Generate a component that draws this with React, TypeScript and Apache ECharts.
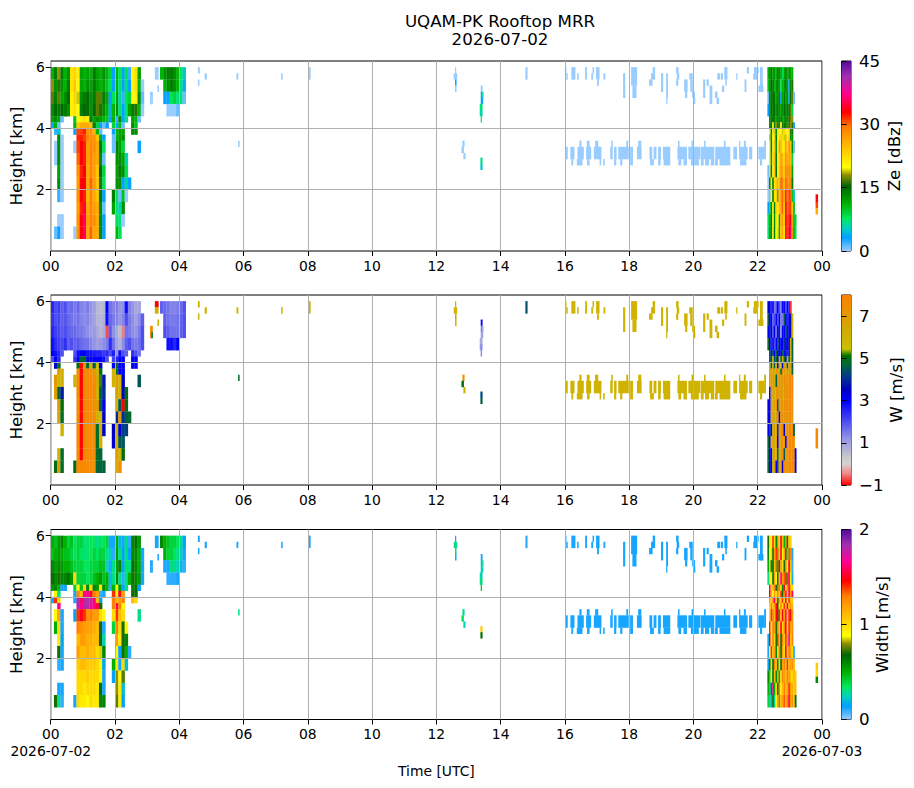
import React, { useEffect, useRef } from "react";
import * as echarts from "echarts";

const _ = null;
const TITLE = "UQAM-PK Rooftop MRR\n2026-07-02";
const BANDS = [6, 5.6, 5.2, 4.8, 4.4, 4.2, 4, 3.8, 3.6, 3.2, 2.8, 2.4, 2, 1.6, 1.2, 0.8, 0.4];
const HOUR_TICKS = [0, 2, 4, 6, 8, 10, 12, 14, 16, 18, 20, 22, 24];
const HEIGHT_TICKS = [2, 4, 6];

const ZE_EARLY = [
  [11,14,18,14,11,13,22,23,21,12,11,12,11,14,12,11,13,11,9,3,11,8,3,8,2,20,22,12],
  [18,13,16,13,11,14,22,24,20,12,11,13,12,14,12,11,12,10,8,3,11,7,3,7,3,21,22,11,0],
  [17,14,17,12,13,15,21,23,19,13,14,15,13,14,17,17,14,12,3,8,12,6,2,8,9,20,21,13,1],
  [13,15,14,15,14,13,21,22,20,14,15,15,13,15,17,16,13,11,4,11,13,7,3,7,12,14,16,11,0],
  [12,13,12,1,_,_,_,10,20,21,22,21,14,12,13,12,11,10,3,11,2,13,3,7,_,12,11,1],
  [3,11,1,_,_,_,_,11,24,26,26,26,25,14,9,3,1,3,_,9,3,10,1,_,_,13,10],
  [_,2,5,_,_,_,_,3,31,31,32,28,28,25,11,1,_,_,_,3,11,12,12,_,_,13,13],
  [_,_,13,0,_,_,_,_,32,32,31,29,28,28,24,11,3,_,_,1,11,12,13],
  [_,0,13,0,_,_,_,0,31,33,32,27,29,28,26,14,8,_,_,1,14,12,9,_,_,_,_,3],
  [_,0,13,0,_,_,_,_,30,33,32,27,29,27,26,13,1,_,_,_,13,13,12,6],
  [_,_,12,0,_,_,_,_,28,32,33,26,29,27,24,15,9,_,_,_,12,14,13,8],
  [_,_,13,0,_,_,_,_,27,33,33,26,30,27,24,16,8,_,_,_,13,13,3,6,3],
  [_,_,2,0,_,_,_,_,28,33,32,25,29,26,24,14,3,_,_,14,8,1,10,0],
  [_,_,_,_,_,_,_,_,27,32,35,26,29,27,26,13,1,_,_,12,7,6,13],
  [_,_,0,0,_,_,_,_,28,33,36,27,29,28,26,13,3,_,_,_,8,7,0],
  [_,1,3,0,_,_,_,0,28,33,36,26,30,26,26,13,3,_,_,_,11,8],
];
const W_EARLY = [
  [2.5,2,2.2,1.8,2,1.6,1.7,1.5,1.7,1.4,1.3,1.5,1.2,1,.6,.5,.6,3,1.6,1.4,1.5,1.2,1.3,2.8,1.4,1.2,.9,.9],
  [2.3,2,2.1,1.8,1.9,1.7,1.6,1.5,1.6,1.4,1.3,1.4,1.2,1,.6,.6,.7,2.8,1.7,1.5,1.4,1.2,1.4,2,1.5,1.3,1,1.3,1.8],
  [2.5,2.2,2.1,1.9,2,1.8,1.7,1.7,1.6,1.5,1.4,1.3,1.1,1.1,.8,.6,.8,-.7,1.8,1.2,.8,.5,-.5,1.6,1.5,1.3,1.2,1.5,2],
  [2.8,2.4,2.2,2.1,2.4,1.8,2,1.8,1.9,1.7,1.6,1.6,1.4,1.2,1,1.1,1.3,1.5,2.4,1.6,1,.7,1.3,1.8,2,1.6,1.5,1.6,2],
  [3,2.8,2.5,2,_,_,_,2,2.8,3,3,2.8,2.8,2.6,2.5,2.5,2.3,2.5,2,2.6,1.2,2.8,2,1.8,_,2.4,2,1.6],
  [2,3,2.5,_,_,_,_,2.4,3.2,4.7,5,3.2,3.1,3,3,3,2.8,2,_,2.2,2.5,3,3,_,_,3,3],
  [_,3.5,5,_,_,_,_,_,5,-1,7,4.8,6,4.5,5.5,3.2,_,_,_,3,5,3,3,_,_,3,3],
  [_,_,7,6,_,_,_,_,7.5,-1,7.6,7.7,7.6,7,6,5,_,_,_,6,5,3,3],
  [_,7,6,6,_,_,_,6,7.5,-1,7.6,7.7,7.8,7.5,6.3,5.2,3.8,_,_,6,7,6,3.5,_,_,_,_,4.5],
  [_,6.8,4.8,3.8,_,_,_,_,7.6,-1,7.7,7.8,7.7,7.6,6,4.7,4,_,_,_,7,6,3.5,5],
  [_,_,7,5,_,_,_,_,7.6,-1,7.7,7.8,7.7,7.4,7,4.7,3.2,_,_,_,6,4.5,-1,5],
  [_,_,6.5,4.8,_,_,_,_,7.6,-1,7.8,7.8,7.6,7.5,6,5.5,3.5,_,_,_,4,7,4,4.6,4.8],
  [_,_,_,6,_,_,_,_,7.7,-1,7.8,7.7,7.6,7.5,4.8,6,3.5,_,_,3.5,6,3.3,4.2,4.2],
  [_,_,_,_,_,_,_,_,7.7,-1,7.8,7.7,7.7,7.5,4.8,6,_,_,_,3.4,6,4.5,4.5],
  [_,_,6,4.8,_,_,_,_,7.7,-1,7.7,7.7,7.8,7.5,4.8,4.7,_,_,_,_,7,6,5],
  [_,5,7,4.8,_,_,_,5,7.8,7.7,7.6,7.7,7.7,7.4,4.7,4.7,4.7,_,_,_,6.2,7.5],
];
const WD_EARLY = [
  [.5,.45,.55,.6,.5,.4,.45,.35,.4,.4,.3,.35,.35,.35,.3,.35,.35,.4,.12,.12,.5,.2,.12,.3,.1,.6,.65,.55],
  [.45,.5,.55,.5,.45,.45,.4,.35,.4,.35,.3,.35,.35,.4,.35,.4,.4,.3,.25,.1,.55,.3,.15,.3,.15,.6,.6,.5,.12],
  [.6,.55,.6,.55,.5,.5,.45,.4,.4,.4,.35,.35,.4,.4,.4,.45,.45,.25,.12,.3,.55,.6,.15,.35,.3,.65,.6,.5,.12],
  [.65,.6,.7,.6,.6,.65,.55,1,.4,.4,.4,.35,.4,.45,.5,.55,.45,.5,.2,.3,.6,.3,.1,.3,.5,.7,.6,.55,.12],
  [.55,.6,.5,.12,.12,_,_,.4,.9,.45,1,.6,1,.6,.55,.95,.6,.5,.1,.5,.9,.55,.15,.3,_,.6,.65,.15],
  [_,.9,.3,_,_,_,_,.12,1.3,1.1,1.65,1.65,1.5,1.3,1.2,.1,.12,_,_,1.4,.9,1.5,1.2,_,_,.7,.65],
  [.12,1.4,1,_,_,_,_,.12,1.8,1.6,1.8,1.8,1.8,1.6,1.1,.15,_,_,_,1.3,1.1,1.2,1.3,_,_,1.1,1],
  [_,_,1.65,_,_,_,_,_,1.8,1.65,1.8,1.8,1.7,1.65,1.55,.7,_,_,_,1.3,1.6,1.3,.9],
  [_,.9,1.2,.12,_,_,_,.15,1.4,1.5,1.4,1.25,1.3,1.2,1.2,1,.9,_,_,1,1.4,1.1,1,_,_,_,_,.3],
  [_,.5,1,.12,_,_,_,_,1.3,1.25,1.2,1.2,1.2,1.15,1.1,.7,.12,_,_,.4,1.3,1,.7,.9],
  [_,_,.95,.15,_,_,_,_,1.1,1.2,1.2,1.15,1.15,1.1,1.1,.65,.25,_,_,_,1.2,.95,.7,.6],
  [_,_,.7,.12,_,_,_,_,1.2,1.1,1.1,1.15,1.1,1.1,1,.85,.6,_,_,_,.9,.15,.7,.5,.1],
  [_,_,.1,.12,_,_,_,_,1.05,1.1,1.1,1.05,1.05,1.05,1,.9,.15,_,_,.5,.95,.12,1,.2],
  [_,_,_,_,_,_,_,_,1,1,1,1.05,1,1,1,.9,.12,_,_,.15,.8,.9,.75],
  [_,_,.12,.12,_,_,_,_,1,1,.95,1,1,1,.95,.65,.12,_,_,_,.8,.95,.2],
  [_,.7,.3,.1,_,_,_,.12,1,.95,.95,.9,1,.95,.95,.6,.6,_,_,_,.75,.95,.15],
];

const ZE_MID = [
  [11,13,14,14,13,11,8,5],
  [_,11,13,14,13,11,7,4],
  [_,3,3,8,9,7,7,1],
  [_,_,0,0,0,1],
];
const W_MID = [
  [1.8,1.7,1.6,1.4,1.4,1.5,1.7,2],
  [_,1.8,1.6,1.5,1.5,1.6,1.8,2],
  [_,2,1.8,1.6,1.6,1.6,1.8,2],
  [_,_,2.8,2.8,2.5,3],
];
const WD_MID = [
  [.6,.5,.45,.4,.4,.35,.3,.15],
  [_,.5,.4,.4,.35,.3,.25,.12],
  [_,.12,.12,.3,.3,.25,.2,.1],
  [_,_,.1,.1,.1,.12],
];

const ZE_LATE = [
  [_,11,13,14,12,13,11,14,13,12,8,12,14,11,13,12,11],
  [_,10,13,15,14,11,13,14,12,8,11,13,14,12,3,13,16],
  [_,1,13,14,15,14,12,13,14,3,12,14,12,13,4,15,17,1],
  [_,3,12,15,14,15,13,14,13,12,13,15,13,14,14,17,9],
  [_,_,13,14,15,14,12,14,13,14,12,13,14,13,16,17,18],
  [_,_,13,15,20,14,18,16,13,20,16,14,14,17,16,18,16,3],
  [_,_,20,14,21,19,13,22,21,20,19,23,21,20,22,16,14],
  [_,_,19,13,20,23,14,21,22,24,22,19,26,20,23,13,13],
  [_,_,20,14,21,24,13,20,27,25,21,22,27,23,28,24,13,1],
  [_,_,21,12,22,25,14,21,23,27,25,23,28,26,27,25,9],
  [_,1,22,14,21,24,15,20,24,28,26,24,29,28,29,26,12],
  [_,0,13,21,14,22,24,19,25,30,29,25,30,29,28,29,14],
  [_,0,1,20,14,22,23,18,24,28,30,26,32,29,31,30,10,5],
  [_,3,8,13,21,14,23,21,25,27,30,24,33,30,31,31,24,10],
  [_,8,11,14,20,13,22,20,12,25,27,24,33,31,32,34,27,10,9],
  [_,7,12,13,21,14,20,23,11,24,26,22,33,31,33,36,28,11,8],
];
const W_LATE = [
  [_,3.5,3,2.5,3,1.5,2,3,2,1.5,3,3,2,3,2.5,-.8],
  [_,4.5,3,3,1.8,2,3,2,3,1.5,1.5,4.5,3,2.5,3,3.5,5.8],
  [_,3,4,3,2,3.2,1.6,3,4,1.2,3,3,4.6,3,3,3.5,6],
  [_,4.8,3.5,2.5,3,2,3,4.8,3,3,3,4,3,3,3.5,6.2,4.6],
  [_,_,4.7,3,4.5,3,4.7,3,3.5,3,4.6,3,3,4.5,3,6,4.6],
  [_,_,4.8,4.2,6,4.4,5,3.5,6,4.7,6,5,3,6,4.6,6,4.6],
  [_,_,6,4.6,6.2,4.6,6,3.5,6,6,3.5,7,6,4.6,6.5,7,4.5],
  [_,_,7,6,7,6,7.5,6.5,7,4.8,7.5,7,6,7.5,7,6.5,4.7],
  [_,_,7,7,7,6,4.6,7,7.5,7,7,7.5,7.5,7,7.6,7.6,7.8],
  [_,_,3,7,7,6,7,7.5,7,7.5,6.5,7,7.6,7.5,7.7,7.6,7.8],
  [_,3,3,7,6,7,7.5,4.6,7,7.5,7,7.5,7.5,7.7,7.7,7.6,7.5],
  [_,3,3,6,7,6,7,7.5,3,7,7.5,7,7.5,7.5,7.6,7.7,7],
  [_,3,4.5,3,6,7,6.5,4,7,7.5,7.5,3.4,7,7.5,7.6,7.7,7.5,4.7],
  [_,4.7,3,6,7,6,7,3,6.5,7,7.5,7,3,7.5,7.7,7.6,7.5,7.5],
  [_,4.7,3,3,6,7,6,4.6,6.5,7,7.5,4.5,7,7.5,7.7,7.7,7.6,7.5,3],
  [_,4.7,3,3.2,6,7,3,4.6,6.5,7.5,3.4,7.5,7,7.7,7.7,7.7,7.6,7.5,3],
];
const WD_LATE = [
  [_,.7,1,.9,1.4,1,.6,1.3,.95,1.5,1.1,.5,1.3,.7,1.1,1],
  [_,.6,.9,1,.7,1.2,1.4,.8,1.1,1.5,.9,1.2,.6,1.3,.8,1.3,.12],
  [_,.5,1,.6,.65,1.1,.8,1.4,.6,1.2,1,.7,1.3,.9,1.5,1.1,.1],
  [_,.3,1,.9,.65,1.2,.9,.7,1.1,1.6,1.2,1.35,.75,1.4,1.6,.9,.12],
  [_,_,1.6,1,1.1,1.3,.7,.8,1.3,1,.6,1.5,1,1.25,1.55,1.1,1],
  [_,_,1.5,1.1,.9,1.2,1,1.3,1,1.4,.7,1.3,1.6,1.1,1.6,1.2,1.6],
  [_,_,1.2,1,1.3,1.6,1.05,.7,1.2,1.1,1.4,1,1.5,1,1.4,1.1,1.05],
  [_,_,1,1.3,1.1,1.2,1.5,.7,1,1.3,.95,1.4,1.1,1.5,1.1,1.25,1.1],
  [_,_,1,1.4,1.3,1.1,1.5,.7,1.4,1.1,1.5,1.2,1.6,1.1,1.4,1.5,1.2],
  [_,_,1.4,.95,1.3,1.2,.7,1.3,1,1.5,1,1.3,1.5,1,1.4,1.2,1.25],
  [_,.12,1.5,.9,1.3,1,.7,1.4,1.1,.7,1.3,1.05,1.4,1.2,1.7,1.05,1.3],
  [_,.12,.9,1.4,1.1,1.2,.6,1,1.3,.7,1.2,1,1.5,1.1,1.3,1.2,1,.1],
  [_,.15,.6,1,.65,1.3,1.1,.6,1,.7,1.2,1.3,1.1,1.4,1.1,1.2,1.25,1.1],
  [_,.6,.4,.9,.65,1.1,.6,1.2,.5,1,1.3,1.2,1.1,1.3,1.2,1.1,1,1.15,1.05],
  [_,.5,.2,.6,1.7,.5,1,.7,1.3,.95,1.1,1.3,1.1,1.2,1.4,1.2,1.15,1.05,1.1],
  [_,.4,.3,.15,.7,.3,.9,1.2,.8,1.1,1.2,1.35,1.15,1.3,1.55,1.2,1.25,1.05,.65],
];

// Weak echo cells near 5-6 km: [start h, end h, bottom km, top km]
const WEAK_UPPER = [
  [4.58,4.63,5.8,6],[4.58,4.62,5.4,5.6],[4.79,4.85,5.6,5.8],[5.78,5.83,5.6,5.8],[7.17,7.21,5.6,5.8],[8.03,8.08,5.6,6],
  [16,16.04,5.8,6],[16.04,16.08,5.6,5.8],[16.2,16.32,5.6,6],[16.38,16.42,5.6,5.8],[16.63,16.68,5.6,6],[16.82,16.87,5.6,5.8],
  [16.86,16.9,5.8,6],[16.97,17.07,5.6,6],[17,17.05,5.4,5.6],[17.2,17.25,5.6,5.8],[17.81,17.87,5,5.8],[18.06,18.24,5.4,6],
  [18.1,18.22,5,5.4],[18.62,18.72,5.4,5.6],[18.68,18.8,5.6,5.8],[18.73,18.8,5.8,6],[18.99,19.05,5.2,5.8],[19.15,19.2,5,5.8],
  [19.15,19.18,4.8,5],[19.46,19.53,5.8,6],[19.48,19.55,5.6,5.8],[19.46,19.52,5.4,5.6],[19.71,19.81,5.2,5.6],[19.74,19.8,5,5.2],
  [19.87,19.97,5.6,5.8],[19.9,19.97,5.2,5.6],[19.96,20.04,5,5.2],[20,20.05,4.8,5],[20.3,20.36,5,5.6],[20.41,20.47,5.4,5.6],
  [20.5,20.58,4.8,5.4],[20.67,20.74,5,5.2],[20.72,20.79,4.8,5],[20.74,20.82,5.6,5.8],[20.85,20.91,5.6,5.8],[20.96,21.05,5.6,6],
  [20.99,21.03,5.4,5.6],[20.89,20.95,5.2,5.4],[21.33,21.36,5.6,5.8],[21.59,21.64,5.2,5.6],[21.66,21.72,5.8,6],[21.86,21.98,5.6,5.8],
  [21.88,22.02,5.8,6],[22.07,22.15,5.2,6],[22.02,22.17,5.2,5.4],[22.2,22.25,3,3.6],
];
// Weak echo layer near 3 km: time spans per gate band
const LAYER_TOP = [[16.45,16.51],[16.68,16.76],[16.94,17.03],[17.44,17.48],[17.91,17.96],[18.28,18.37],[19.52,19.56],[19.94,20],[20.33,20.37],[20.95,20.99],[21.42,21.45],[21.57,21.62]];
const LAYER_MID = [[16.03,16.08],[16.17,16.29],[16.39,16.58],[16.66,16.81],[16.9,17.13],[17.41,17.48],[17.53,17.6],[17.66,17.98],[18.03,18.11],[18.24,18.38],[18.63,18.71],[18.76,18.84],[18.9,18.98],[19.05,19.27],[19.5,19.79],[19.84,20.21],[20.23,20.64],[20.68,21.14],[21.24,21.35],[21.42,21.68],[21.73,21.82],[22.02,22.2]];
const LAYER_LOW = [[16.2,16.25],[16.37,16.54],[16.69,16.76],[17.08,17.12],[17.19,17.23],[17.53,17.59],[17.72,17.78],[18.03,18.11],[18.65,18.76],[18.9,18.97],[19.07,19.27],[19.53,19.61],[19.69,19.79],[19.92,20.16],[20.23,20.31],[20.36,20.48],[20.54,20.64],[20.67,20.75],[20.81,21.14],[21.45,21.64],[22.07,22.13]];
const WEAK_VALUES = [0, 6, 0.12]; // Ze, W, Width

// Isolated cells: [start h, end h, bottom km, top km, Ze, W, Width]
const ISOLATED = [
  [3.24,3.35,5.8,6,0,-1,.12],[3.24,3.35,5.6,5.8,0,6.3,.12],[3.32,3.36,5.2,5.4,0,6,.12],
  [3.09,3.17,5,5.2,0,7.5,.12],[3.09,3.13,4.8,5,0,7.5,.12],[3.13,3.17,4.8,5,0,4.8,.12],
  [5.83,5.87,3.4,3.6,0,4.8,.3],
  [12.58,12.61,5.8,6,0,6,.12],[12.54,12.64,5.6,5.8,0,6,.3],[12.58,12.62,5.4,5.6,3,6.5,.3],[12.58,12.62,5.2,5.4,0,6,.12],
  [13.38,13.43,5.2,5.4,0,3,.12],[13.38,13.43,5,5.2,3,1.5,.2],[13.43,13.46,5,5.2,7,1,.3],[13.38,13.45,4.8,5,3,1,.25],
  [13.35,13.43,4.6,4.8,7,.8,.25],[13.35,13.43,4.4,4.6,6,1.2,.3],[13.38,13.41,4.2,4.4,8,1.5,.45],
  [12.81,12.87,3.4,3.6,0,7.5,.3],[12.78,12.85,3.2,3.4,0,5,.35],[12.84,12.9,3,3.2,0,6,.25],
  [13.37,13.43,2.85,3.05,7,4.2,1.05],[13.37,13.43,2.65,2.85,5,4.6,.65],
  [14.77,14.83,5.6,6,0,4.4,.1],
  [23.8,23.87,1.6,1.85,33,7.8,1.05],[23.8,23.87,1.4,1.6,31,7.8,1],[23.8,23.87,1.2,1.4,26,7.8,.6],
];

const ZE_STOPS = [[0,"#99ccff"],[.07,"#00a0ff"],[.12,"#00d0c0"],[.17,"#00e860"],[.25,"#00b000"],[.34,"#006400"],[.4,"#909000"],[.44,"#ffff00"],[.53,"#ffc800"],[.65,"#ff8000"],[.73,"#ff0000"],[.83,"#ff0090"],[.92,"#a030b0"],[1,"#500a9a"]];
const W_STOPS = [[0,"#ff0000"],[.06,"#ee8888"],[.11,"#d8d0d0"],[.14,"#cccccc"],[.25,"#9090e8"],[.33,"#5050f0"],[.44,"#0000ff"],[.5,"#0000c0"],[.58,"#004080"],[.64,"#006a30"],[.68,"#007000"],[.715,"#c8c000"],[.83,"#d4a800"],[1,"#ff8000"]];

const PANELS = [
  { top: 61, label: "Ze [dBz]", gap: 35, min: 0, max: 45, ticks: [0, 15, 30, 45], stops: ZE_STOPS, early: ZE_EARLY, mid: ZE_MID, late: ZE_LATE },
  { top: 295, label: "W [m/s]", gap: 37, min: -1, max: 8, ticks: [-1, 1, 3, 5, 7], stops: W_STOPS, early: W_EARLY, mid: W_MID, late: W_LATE },
  { top: 529.5, label: "Width [m/s]", gap: 23, min: 0, max: 2, ticks: [0, 1, 2], stops: ZE_STOPS, early: WD_EARLY, mid: WD_MID, late: WD_LATE },
];

function hex(c: string) {
  return [1, 3, 5].map((i) => parseInt(c.slice(i, i + 2), 16));
}
function colorAt(stops: any[], f: number) {
  const x = Math.max(0, Math.min(1, f));
  for (let i = 1; i < stops.length; i++) {
    if (x <= stops[i][0]) {
      const [a, ca] = stops[i - 1];
      const [b, cb] = stops[i];
      const k = (x - a) / (b - a);
      const p = hex(ca), q = hex(cb);
      return `rgb(${p.map((v, j) => Math.round(v + (q[j] - v) * k)).join(",")})`;
    }
  }
  return stops[stops.length - 1][1];
}
function matrixCells(rows: any[][], t0: number, dt: number) {
  const out: number[][] = [];
  rows.forEach((row, r) =>
    row.forEach((v, c) => {
      if (v !== null) out.push([t0 + c * dt, t0 + (c + 1) * dt, BANDS[r + 1], BANDS[r], v]);
    })
  );
  return out;
}
function panelCells(p: any, idx: number) {
  const out = [
    ...matrixCells(p.early, 0, 0.1),
    ...matrixCells(p.mid, 3.4, 0.1),
    ...matrixCells(p.late, 22.25, 0.05),
  ];
  const weak = WEAK_VALUES[idx];
  WEAK_UPPER.forEach((c) => out.push([c[0], c[1], c[2], c[3], weak]));
  LAYER_TOP.forEach((s) => out.push([s[0], s[1], 3.4, 3.6, weak]));
  LAYER_MID.forEach((s) => out.push([s[0], s[1], 3, 3.4, weak]));
  LAYER_LOW.forEach((s) => out.push([s[0], s[1], 2.8, 3, weak]));
  ISOLATED.forEach((c) => out.push([c[0], c[1], c[2], c[3], c[4 + idx]]));
  return out;
}

const INK = "#000";
const FONT = "DejaVu Sans";

function buildOption() {
  const grid: any[] = [], xAxis: any[] = [], yAxis: any[] = [], series: any[] = [];
  PANELS.forEach((p, i) => {
    const last = i === PANELS.length - 1;
    grid.push({ left: 50, top: p.top, width: 772, height: 190, show: true, borderColor: INK, borderWidth: 1, backgroundColor: "#fff", containLabel: false });
    grid.push({ left: 841.5, top: p.top, width: 9.5, height: 190, show: true, borderColor: INK, borderWidth: 1, backgroundColor: "#fff", containLabel: false });
    const gm = i * 2, gc = i * 2 + 1;
    xAxis.push({
      gridIndex: gm, type: "value", min: 0, max: 24, interval: 2, z: 5,
      axisLine: { show: false },
      axisTick: { show: true, length: 5, customValues: HOUR_TICKS, lineStyle: { color: INK, width: 1 } },
      splitLine: { show: true, lineStyle: { color: "#b0b0b0", width: 1 } },
      axisLabel: {
        show: true, color: INK, fontFamily: FONT, fontSize: 13.9, margin: 6, lineHeight: 17, showMinLabel: true, showMaxLabel: true, hideOverlap: false, customValues: HOUR_TICKS,
        formatter: (v: number) => {
          const s = v === 24 ? "00" : String(v).padStart(2, "0");
          if (last && v === 0) return s + "\n2026-07-02";
          if (last && v === 24) return s + "\n2026-07-03";
          return s;
        },
      },
      ...(last ? { name: "Time [UTC]", nameLocation: "middle", nameGap: 44, nameTextStyle: { color: INK, fontFamily: FONT, fontSize: 13.9 } } : {}),
    });
    yAxis.push({
      gridIndex: gm, type: "value", min: 0, max: 6.2, z: 5,
      name: "Height [km]", nameLocation: "middle", nameGap: 25, nameTextStyle: { color: INK, fontFamily: FONT, fontSize: 16.67 },
      axisLine: { show: false },
      axisTick: { show: true, length: 5, customValues: HEIGHT_TICKS, lineStyle: { color: INK, width: 1 } },
      axisLabel: { show: true, color: INK, fontFamily: FONT, fontSize: 13.9, margin: 6, customValues: HEIGHT_TICKS },
      splitLine: { show: true, showMaxLine: false, lineStyle: { color: "#b0b0b0", width: 1 } },
    });
    xAxis.push({ gridIndex: gc, type: "value", min: 0, max: 1, show: false });
    yAxis.push({
      gridIndex: gc, type: "value", min: p.min, max: p.max, position: "right", z: 5,
      name: p.label, nameLocation: "middle", nameRotate: 90, nameGap: p.gap,
      nameTextStyle: { color: INK, fontFamily: FONT, fontSize: 16.67 },
      axisLine: { show: false },
      axisTick: { show: true, length: 5, customValues: p.ticks, lineStyle: { color: INK, width: 1 } },
      axisLabel: { show: true, color: INK, fontFamily: FONT, fontSize: 16.67, margin: 8, customValues: p.ticks, formatter: (v: number) => String(v).replace("-", "\u2212") },
      splitLine: { show: false },
    });
    series.push({
      type: "custom", xAxisIndex: gm, yAxisIndex: gm, coordinateSystem: "cartesian2d", silent: true, z: 2,
      encode: { x: [0, 1], y: [2, 3] },
      data: panelCells(p, i),
      renderItem: (_params: any, api: any) => {
        const a = api.coord([api.value(0), api.value(3)]);
        const b = api.coord([api.value(1), api.value(2)]);
        const v = api.value(4);
        return {
          type: "rect",
          shape: { x: a[0], y: a[1], width: b[0] - a[0] + 0.25, height: b[1] - a[1] + 0.25 },
          style: { fill: colorAt(p.stops, (v - p.min) / (p.max - p.min)) },
        };
      },
    });
    series.push({
      type: "custom", xAxisIndex: gc, yAxisIndex: gc, coordinateSystem: "cartesian2d", silent: true, z: 2,
      encode: { x: [0, 1], y: [2, 3] },
      data: [[0, 1, p.min, p.max]],
      renderItem: (_params: any, api: any) => {
        const a = api.coord([api.value(0), api.value(3)]);
        const b = api.coord([api.value(1), api.value(2)]);
        return {
          type: "rect",
          shape: { x: a[0], y: a[1], width: b[0] - a[0], height: b[1] - a[1] },
          style: { fill: new echarts.graphic.LinearGradient(0, 1, 0, 0, p.stops.map((s: any) => ({ offset: s[0], color: s[1] }))) },
        };
      },
    });
  });
  return {
    animation: false,
    backgroundColor: "#fff",
    title: { text: TITLE, left: 495, top: 7, textAlign: "center", textStyle: { color: INK, fontFamily: FONT, fontSize: 16.67, fontWeight: "normal", lineHeight: 18 } },
    grid, xAxis, yAxis, series,
  };
}

export default function App() {
  const ref = useRef<HTMLDivElement>(null);
  useEffect(() => {
    const chart = echarts.init(ref.current!, undefined, { renderer: "svg" });
    chart.setOption(buildOption() as any);
    return () => chart.dispose();
  }, []);
  return <div ref={ref} style={{ position: "absolute", left: 0, top: 0, width: 914, height: 788 }} />;
}
